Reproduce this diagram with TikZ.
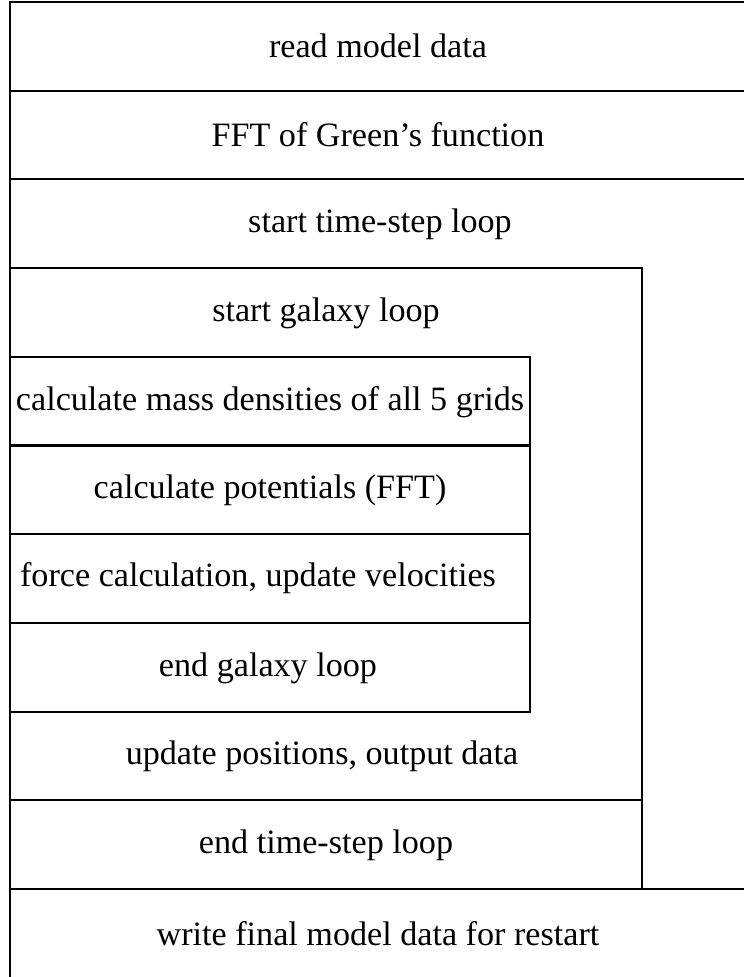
\documentclass[tikz,border=0pt]{standalone}
\usepackage{fontspec}
\setmainfont{Liberation Serif}

\tikzset{every picture/.style={line width=1.6pt}}
\tikzset{rowtext/.style={inner sep=0.75pt, anchor=center, font=\fontsize{25.6pt}{30pt}\selectfont}}

\begin{document}
\begin{tikzpicture}[x=0.75pt,y=0.75pt,yscale=-1,xscale=1]
    \useasboundingbox (0,0) rectangle (743,977);
    
    %Outer frame
    \draw    (10,2) rectangle (746,978) ;
    %Straight Lines
    \draw    (10,90.7) -- (746,90.7) ;
    %Straight Lines
    \draw    (10,179.4) -- (746,179.4) ;
    %Time-step loop
    \draw    (10,268.1) rectangle (642,889) ;
    %Straight Lines
    \draw    (642,889) -- (746,889) ;
    %Galaxy loop
    \draw    (10,356.8) rectangle (530,711.6) ;
    %Straight Lines
    \draw    (10,445.5) -- (530,445.5) ;
    %Straight Lines
    \draw    (10,534.2) -- (530,534.2) ;
    %Straight Lines
    \draw    (10,622.9) -- (530,622.9) ;
    %Straight Lines
    \draw    (10,800.3) -- (642,800.3) ;
    
    % Text Node
    \node [rowtext] (readdata) at (378,46) {read model data};
    % Text Node
    \node [rowtext] (greenfft) at (378,135) {FFT of Green's function};
    % Text Node
    \node [rowtext] (tsstart) at (380,224) {start time-step loop};
    % Text Node
    \node [rowtext] (glstart) at (326,313) {start galaxy loop};
    % Text Node
    \node [rowtext] (massdens) at (270,402) {calculate mass densities of all 5 grids};
    % Text Node
    \node [rowtext] (potentials) at (270,490) {calculate potentials (FFT)};
    % Text Node
    \node [rowtext] (forces) at (258,578) {force calculation, update velocities};
    % Text Node
    \node [rowtext] (glend) at (268,668) {end galaxy loop};
    % Text Node
    \node [rowtext] (positions) at (322,756) {update positions, output data};
    % Text Node
    \node [rowtext] (tsend) at (326,845) {end time-step loop};
    % Text Node
    \node [rowtext] (writedata) at (378,934) {write final model data for restart};
    
\end{tikzpicture}
\end{document}
